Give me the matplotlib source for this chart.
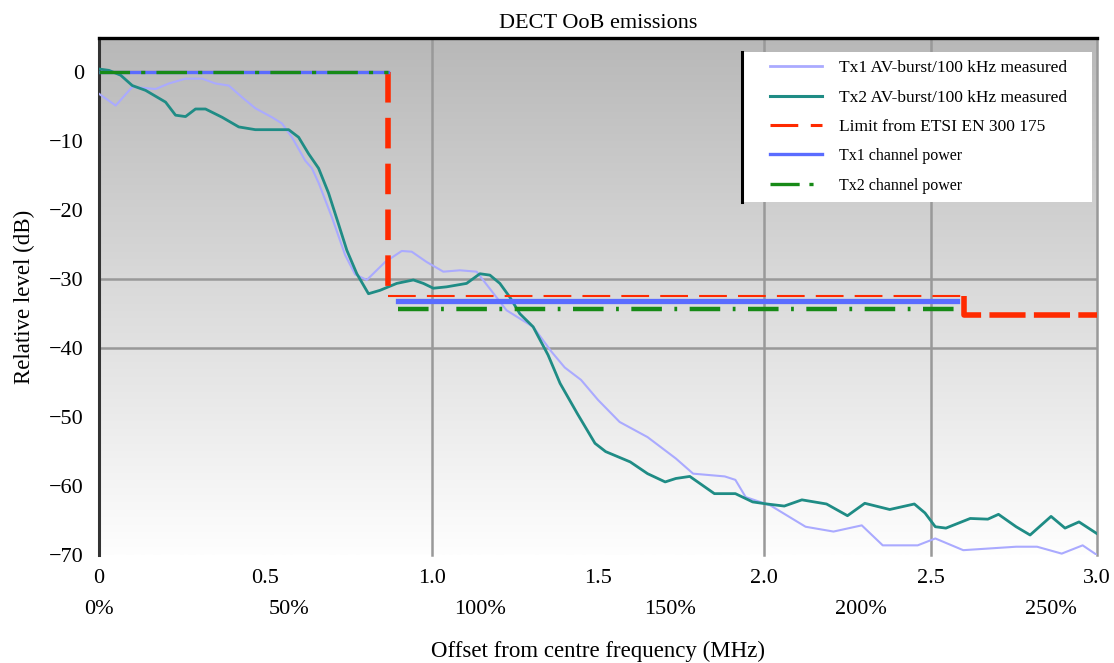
import numpy as np
import matplotlib
matplotlib.use("Agg")
import matplotlib.pyplot as plt
from matplotlib.lines import Line2D
from matplotlib.patches import Rectangle
from matplotlib.colors import LinearSegmentedColormap

plt.rcParams['font.family'] = ['Liberation Serif', 'DejaVu Serif']
plt.rcParams['lines.scale_dashes'] = False   # dash lengths given in points

# Tx1 AV-burst level, 100 kHz RBW (MHz offset, dB rel. in-band)
tx1_freq = [0.0, 0.05, 0.10, 0.17, 0.21, 0.26, 0.31, 0.35, 0.39, 0.43, 0.47, 0.52,
            0.55, 0.58, 0.62, 0.64, 0.66, 0.70, 0.74, 0.77, 0.805, 0.86, 0.91, 0.94,
            0.985, 1.035, 1.085, 1.135, 1.185, 1.225, 1.265, 1.305, 1.36, 1.40, 1.449,
            1.50, 1.565, 1.649, 1.734, 1.786, 1.881, 1.913, 1.944, 2.018, 2.124, 2.208,
            2.293, 2.356, 2.461, 2.514, 2.598, 2.757, 2.82, 2.894, 2.957, 3.0]
tx1_level = [-3.1, -4.8, -2.1, -2.4, -1.6, -0.9, -0.9, -1.6, -1.9, -3.6, -5.2, -6.5,
             -7.4, -9.4, -12.8, -13.9, -16.0, -21.0, -26.5, -29.3, -30.1, -27.5, -25.9, -26.0,
             -27.5, -28.9, -28.7, -28.9, -32.0, -34.5, -35.7, -36.9, -40.5, -42.8, -44.6,
             -47.5, -50.7, -52.9, -56.0, -58.2, -58.6, -59.1, -61.6, -62.8, -65.9, -66.6,
             -65.7, -68.6, -68.6, -67.6, -69.3, -68.8, -68.8, -69.8, -68.6, -70.0]

# Tx2 AV-burst level, 100 kHz RBW
tx2_freq = [0.0, 0.03, 0.065, 0.10, 0.14, 0.20, 0.23, 0.26, 0.29, 0.32, 0.37, 0.42,
            0.47, 0.57, 0.60, 0.63, 0.66, 0.69, 0.72, 0.745, 0.775, 0.81, 0.845, 0.895,
            0.945, 0.975, 1.005, 1.045, 1.105, 1.145, 1.175, 1.205, 1.235, 1.265, 1.305,
            1.35, 1.386, 1.438, 1.491, 1.523, 1.597, 1.649, 1.702, 1.734, 1.776, 1.85,
            1.913, 1.965, 2.008, 2.06, 2.113, 2.187, 2.25, 2.302, 2.377, 2.451, 2.483,
            2.514, 2.546, 2.619, 2.672, 2.704, 2.757, 2.799, 2.862, 2.904, 2.946, 3.0]
tx2_level = [0.5, 0.3, -0.4, -1.9, -2.6, -4.3, -6.2, -6.4, -5.3, -5.3, -6.5, -7.9,
             -8.3, -8.3, -9.4, -11.8, -13.9, -17.5, -22.0, -25.8, -29.2, -32.1, -31.6, -30.6,
             -30.1, -30.6, -31.3, -31.1, -30.6, -29.2, -29.4, -30.6, -32.6, -35.0, -36.9,
             -41.0, -45.1, -49.5, -53.8, -55.0, -56.5, -58.2, -59.4, -58.9, -58.6, -61.1,
             -61.1, -62.3, -62.6, -62.9, -62.0, -62.6, -64.3, -62.5, -63.4, -62.6, -63.9,
             -65.9, -66.1, -64.7, -64.8, -64.1, -65.9, -67.1, -64.4, -66.1, -65.2, -66.9]

# ETSI EN 300 175 mask
limit_edge = [0.868, 2.6]          # MHz
limit_level = [0.0, -32.5, -35.2]  # dB

# Channel power (in-band reference and adjacent channel)
chan_in = [0.0, 0.868]
chan_adj = [0.9, 2.58]
tx1_adj_power = -33.2
tx2_adj_power = -34.3

x_ticks = [0, 0.5, 1.0, 1.5, 2.0, 2.5, 3.0]
x_labels = ['0', '0.5', '1.0', '1.5', '2.0', '2.5', '3.0']
y_ticks = [0, -10, -20, -30, -40, -50, -60, -70]
pct_ticks = [0, 50, 100, 150, 200, 250]
chan_bw = 1.145    # MHz that counts as 100 %
grid_x = [1.0, 2.0, 2.5, 3.0]
grid_y = [-30, -40]

C_TX1 = '#aaaaff'
C_TX2 = '#1f8c85'
C_LIM = '#ff2a00'
C_BLUE = '#5a6cff'
C_GREEN = '#178a17'

fig = plt.figure(figsize=(11.14, 6.63), dpi=100)
ax = fig.add_axes([0.0889, 0.1629, 0.8958, 0.7798])

# grey-to-white background
bg = LinearSegmentedColormap.from_list('bg', ['#b8b8b8', '#fefefe'])
ax.imshow(np.linspace(0, 1, 256).reshape(-1, 1), extent=[0, 3, -70, 5],
          aspect='auto', cmap=bg, origin='upper', zorder=0)

for gx in grid_x:
    ax.axvline(gx, color='#999999', lw=1.8, zorder=1, clip_on=False)
for gy in grid_y:
    ax.axhline(gy, color='#999999', lw=1.8, zorder=1)

# measured traces
ax.plot(tx1_freq, tx1_level, color=C_TX1, lw=1.5, zorder=3)
ax.plot(tx2_freq, tx2_level, color=C_TX2, lw=2.0, zorder=3)

# limit mask: thick vertical steps, thin horizontal runs
ax.plot([limit_edge[0], limit_edge[0]], [limit_level[0], limit_level[1]],
        color=C_LIM, lw=4.0, dashes=(22, 11), zorder=4)
ax.plot([chan_in[0], limit_edge[0]], [limit_level[0]] * 2, color=C_LIM, lw=1.5, zorder=2)
ax.plot([limit_edge[0], limit_edge[1]], [limit_level[1]] * 2,
        color=C_LIM, lw=1.5, dashes=(20, 8), zorder=4)
ax.plot([limit_edge[1], limit_edge[1], 3.0], [limit_level[1], limit_level[2], limit_level[2]],
        color=C_LIM, lw=4.0, dashes=(26, 6), zorder=4)

# channel power
ax.plot(chan_in, [0, 0], color=C_BLUE, lw=2.4, zorder=5)
ax.plot(chan_in, [0, 0], color=C_GREEN, lw=2.4, dashes=(22, 8, 3, 8), zorder=6)
ax.plot(chan_adj, [tx1_adj_power] * 2, color=C_BLUE, lw=3.8, zorder=5)
ax.plot(chan_adj, [tx2_adj_power] * 2, color=C_GREEN, lw=3.2, dashes=(22, 9, 2, 9), zorder=5)

ax.set_xlim(0, 3.0)
ax.set_ylim(-70, 5)

ax.set_xticks(x_ticks)
ax.set_xticklabels(x_labels)
ax.set_yticks(y_ticks)
ax.tick_params(length=0, labelsize=16)
ax.tick_params(axis='x', pad=10)
ax.tick_params(axis='y', pad=11)

for side in ['bottom', 'right']:
    ax.spines[side].set_visible(False)
ax.spines['left'].set_color('#333333')
ax.spines['left'].set_linewidth(2.2)
ax.spines['top'].set_color('black')
ax.spines['top'].set_linewidth(2.4)

# percentage of channel bandwidth under the MHz scale
sec = ax.secondary_xaxis(-0.062, functions=(lambda f: f / chan_bw * 100,
                                             lambda p: p * chan_bw / 100))
sec.set_xticks(pct_ticks)
sec.set_xticklabels([f'{p}%' for p in pct_ticks])
sec.tick_params(length=0, labelsize=16, pad=9)
sec.spines['bottom'].set_visible(False)

ax.set_xlabel('Offset from centre frequency (MHz)', fontsize=16.5, labelpad=38)
ax.set_ylabel('Relative level (dB)', fontsize=16.5, labelpad=10)
ax.set_title('DECT OoB emissions', fontsize=16, pad=7)

# legend box: white panel with a black rule on its left edge
ax.add_patch(Rectangle((0.644, 0.683), 0.351, 0.290, transform=ax.transAxes,
                       facecolor='white', edgecolor='none', zorder=9))
ax.add_line(Line2D([0.644, 0.644], [0.683, 0.973], transform=ax.transAxes,
                   color='black', lw=2.2, zorder=11))

handles = [
    Line2D([], [], color=C_TX1, lw=2.0),
    Line2D([], [], color=C_TX2, lw=2.2),
    Line2D([], [], color=C_LIM, lw=2.2, dashes=(20, 9)),
    Line2D([], [], color=C_BLUE, lw=2.4),
    Line2D([], [], color=C_GREEN, lw=2.4, dashes=(21, 7, 3, 7)),
]
labels = ['Tx1 AV-burst/100 kHz measured', 'Tx2 AV-burst/100 kHz measured',
          'Limit from ETSI EN 300 175', 'Tx1 channel power', 'Tx2 channel power']
leg = ax.legend(handles, labels, loc='upper left', bbox_to_anchor=(0.672, 0.957),
                borderaxespad=0, borderpad=0, fontsize=12.5, handlelength=3.0,
                handletextpad=1.0, labelspacing=0.76, frameon=False)
leg.set_zorder(10)
for t in leg.get_texts()[3:]:
    t.set_fontsize(11.5)

fig.savefig('out.png', dpi=100)
